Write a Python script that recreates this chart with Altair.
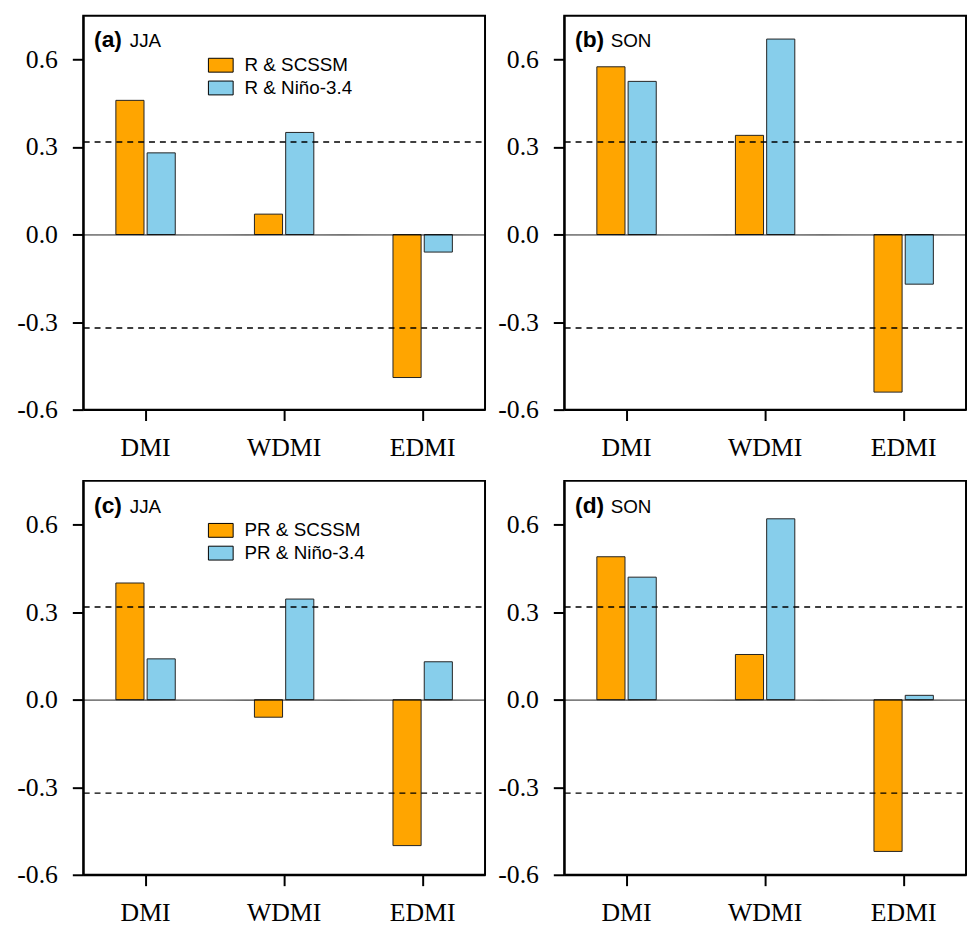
import altair as alt
import pandas as pd

categories = ["DMI", "WDMI", "EDMI"]
series_top = ["R & SCSSM", "R & Niño-3.4"]
series_bot = ["PR & SCSSM", "PR & Niño-3.4"]

a_scssm = [0.46, 0.07, -0.49]
a_nino = [0.28, 0.35, -0.06]
b_scssm = [0.575, 0.34, -0.54]
b_nino = [0.525, 0.67, -0.17]
c_scssm = [0.40, -0.06, -0.50]
c_nino = [0.14, 0.345, 0.13]
d_scssm = [0.49, 0.155, -0.52]
d_nino = [0.42, 0.62, 0.015]

thresholds = [0.32, -0.32]
y_ticks = [-0.6, -0.3, 0.0, 0.3, 0.6]
panel_tags = ["(a)", "(b)", "(c)", "(d)"]
seasons = ["JJA", "SON", "JJA", "SON"]
colors = ["#FFA500", "#87CEEB"]

W, H = 406, 398
yscale = alt.Scale(domain=[-0.6, 0.75], nice=False)

# tick values for the axis: labelled ticks plus the significance lines
axis_values = sorted(y_ticks + thresholds)
IS_THR = "abs(abs(datum.value) - 0.32) < 0.005"
IS_LINE = "(abs(abs(datum.value) - 0.32) < 0.005) || (abs(datum.value) < 0.0001)"


def panel(s1, s2, names, tag, season, show_legend):
    df = pd.DataFrame({
        "category": categories * 2,
        "series": [names[0]] * 3 + [names[1]] * 3,
        "k": ["s1"] * 3 + ["s2"] * 3,
        "value": s1 + s2,
    })
    if show_legend:
        legend = alt.Legend(
            title=None, orient="none", legendX=126, legendY=37, padding=0,
            symbolType="M-1,-0.56H1V0.56H-1Z", symbolSize=625,
            symbolStrokeColor="black", symbolStrokeWidth=1, symbolOpacity=1,
            labelFont="Liberation Sans", labelFontSize=19, labelColor="black",
            labelOffset=11, rowPadding=-0.5,
        )
    else:
        legend = None
    bars = alt.Chart(df).mark_bar(stroke="#222222", strokeWidth=1, opacity=1).encode(
        x=alt.X(
            "category:N", sort=categories, title=None,
            scale=alt.Scale(paddingInner=0.5714, paddingOuter=0.2357),
            axis=alt.Axis(labelAngle=0, labelFont="Liberation Serif",
                          labelFontSize=26, labelPadding=14, labelColor="black"),
        ),
        xOffset=alt.XOffset("k:N", sort=["s1", "s2"],
                            scale=alt.Scale(domain=["s1", "s2"], paddingInner=0.1, paddingOuter=0)),
        y=alt.Y(
            "value:Q", title=None, scale=yscale, stack=None,
            axis=alt.Axis(
                values=axis_values, format=".1f",
                labelExpr=IS_THR + " ? '' : datum.label",
                labelFont="Liberation Serif", labelFontSize=26, labelPadding=15,
                labelColor="black",
                grid=True, gridColor="black",
                gridOpacity=alt.condition(IS_LINE, alt.value(1), alt.value(0)),
                gridDash=alt.condition(IS_THR, alt.value([6, 5]), alt.value([1, 0])),
                gridWidth=alt.condition(IS_THR, alt.value(1.5), alt.value(1)),
                tickOpacity=alt.condition(IS_THR, alt.value(0), alt.value(1)),
                zindex=1,
            ),
        ),
        color=alt.Color("series:N", sort=names,
                        scale=alt.Scale(domain=names, range=colors), legend=legend),
    )
    lab = pd.DataFrame({"tag": [tag], "season": [season]})
    t1 = alt.Chart(lab).mark_text(
        align="left", baseline="alphabetic", font="Liberation Sans",
        fontWeight="bold", fontSize=23, color="black"
    ).encode(x=alt.value(11), y=alt.value(32), text="tag:N")
    t2 = alt.Chart(lab).mark_text(
        align="left", baseline="alphabetic", font="Liberation Sans",
        fontSize=19, color="black"
    ).encode(x=alt.value(47), y=alt.value(32), text="season:N")
    return alt.layer(bars, t1, t2).properties(width=W, height=H)


pa = panel(a_scssm, a_nino, series_top, panel_tags[0], seasons[0], True)
pb = panel(b_scssm, b_nino, series_top, panel_tags[1], seasons[1], False)
pc = panel(c_scssm, c_nino, series_bot, panel_tags[2], seasons[2], True)
pd_ = panel(d_scssm, d_nino, series_bot, panel_tags[3], seasons[3], False)

top = alt.hconcat(pa, pb, spacing=10).resolve_scale(color="independent").resolve_legend(color="independent")
bot = alt.hconcat(pc, pd_, spacing=10).resolve_scale(color="independent").resolve_legend(color="independent")

chart = (
    alt.vconcat(top, bot, spacing=19)
    .resolve_scale(color="independent")
    .resolve_legend(color="independent")
    .properties(padding={"left": 7, "top": 2, "right": 0, "bottom": 0})
    .configure_view(stroke="black", strokeWidth=2)
    .configure_axis(
        domainColor="black", domainWidth=2, tickColor="black",
        tickWidth=2, tickSize=11, labelColor="black", labelFont="Liberation Serif",
    )
    .configure_axisX(grid=False)
)

chart.save(
    "out.html",
    embed_options={
        "renderer": "svg",
        "actions": False,
        "formatLocale": {
            "decimal": ".", "thousands": ",", "grouping": [3],
            "currency": ["$", ""], "minus": "-",
        },
    },
)
